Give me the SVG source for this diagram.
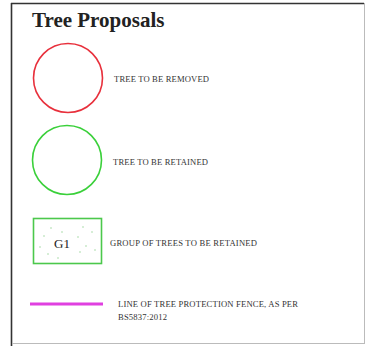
<svg xmlns="http://www.w3.org/2000/svg" width="366" height="346" viewBox="0 0 366 346">
<style>
.lbl{font-family:"Liberation Serif","Times New Roman",serif;font-size:8.6px;fill:#333}
.dot{fill:#8fcf8f}
</style>
<rect width="366" height="346" fill="#fff"/>
<g id="frame">
<line x1="11.5" y1="3" x2="11.5" y2="346" stroke="#333" stroke-width="1.6"/>
<line x1="11" y1="3.5" x2="364" y2="3.5" stroke="#333" stroke-width="1.4"/>
<line x1="364.5" y1="3" x2="364.5" y2="344" stroke="#bbb" stroke-width="1"/>
<line x1="12" y1="343.5" x2="365" y2="343.5" stroke="#bbb" stroke-width="1"/>
</g>
<text id="title" x="32" y="27" font-family="Liberation Serif,'Times New Roman',serif" font-weight="bold" font-size="21" fill="#222">Tree Proposals</text>
<g id="removed">
<circle cx="68" cy="78" r="34.5" fill="none" stroke="#e8303c" stroke-width="1.6"/>
<text class="lbl" x="114" y="82" textLength="95">TREE TO BE REMOVED</text>
</g>
<g id="retained">
<circle cx="67" cy="160" r="34.5" fill="none" stroke="#3ad03a" stroke-width="1.6"/>
<text class="lbl" x="113" y="165" textLength="95">TREE TO BE RETAINED</text>
</g>
<g id="group">
<rect x="33.5" y="218.5" width="68" height="45" fill="#fff" stroke="#4cc84c" stroke-width="1.6"/>
<circle class="dot" cx="51" cy="228" r="0.7"/><circle class="dot" cx="83" cy="227" r="0.7"/>
<circle class="dot" cx="44" cy="236" r="0.7"/><circle class="dot" cx="78" cy="237" r="0.7"/>
<circle class="dot" cx="40" cy="247" r="0.7"/><circle class="dot" cx="86" cy="246" r="0.7"/>
<circle class="dot" cx="48" cy="254" r="0.7"/><circle class="dot" cx="80" cy="252" r="0.7"/>
<circle class="dot" cx="95" cy="250" r="0.7"/><circle class="dot" cx="62" cy="232" r="0.7"/>
<circle class="dot" cx="92" cy="232" r="0.7"/><circle class="dot" cx="58" cy="258" r="0.7"/>
<text x="54" y="248" font-family="Liberation Serif,'Times New Roman',serif" font-size="13" fill="#222">G1</text>
<text class="lbl" x="110" y="246" textLength="147">GROUP OF TREES TO BE RETAINED</text>
</g>
<g id="fence">
<line x1="30" y1="304" x2="103" y2="304" stroke="#e040e0" stroke-width="3"/>
<text class="lbl" x="118" y="307" textLength="180">LINE OF TREE PROTECTION FENCE, AS PER</text>
<text class="lbl" x="118" y="320" textLength="49">BS5837:2012</text>
</g>
</svg>
